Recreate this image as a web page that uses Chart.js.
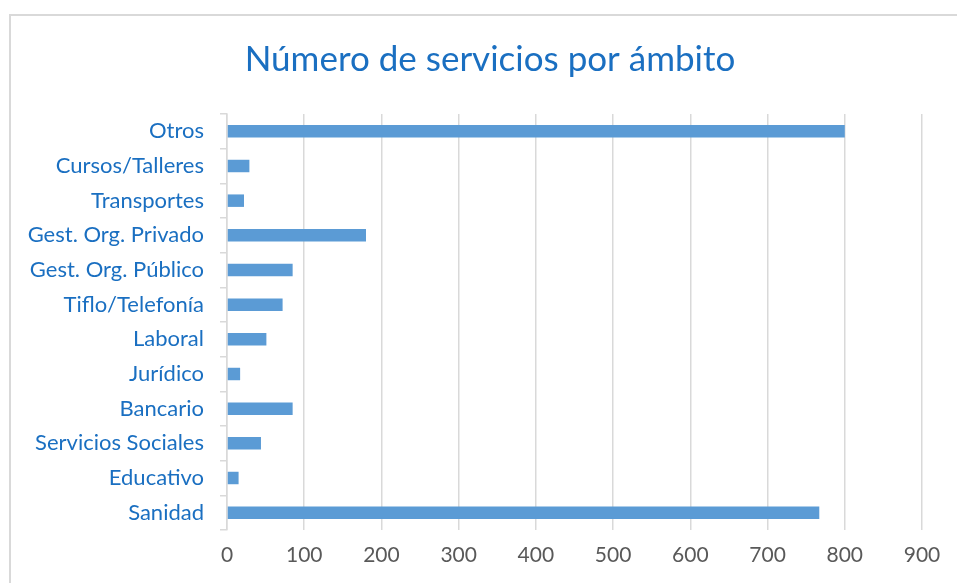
<!DOCTYPE html>
<html>
<head>
<meta charset="utf-8">
<script src="https://cdn.jsdelivr.net/npm/chart.js@4"></script>
<style>
  html, body { margin: 0; padding: 0; overflow: hidden; background: #fff; }
  #frame { position: absolute; left: 9px; top: 14px; width: 1000px; height: 700px; border: 2px solid #d9d9d9; }
  #wrap { position: absolute; left: 0; top: 0; width: 957px; height: 583px; }
</style>
</head>
<body>
<div id="frame"></div>
<div id="wrap"><canvas id="chart"></canvas></div>
<script>
const categories = [
  "Otros", "Cursos/Talleres", "Transportes", "Gest. Org. Privado",
  "Gest. Org. Público", "Tiflo/Telefonía", "Laboral", "Jurídico",
  "Bancario", "Servicios Sociales", "Educativo", "Sanidad"
];
const servicios = [800, 29, 22, 180, 85, 72, 51, 17, 85, 44, 15, 767];
const xTicks = [0, 100, 200, 300, 400, 500, 600, 700, 800, 900];
const chartTitle = "Número de servicios por ámbito";

const blue = "#1a6fc1";
const fontFamily = "Lato, 'Open Sans', sans-serif";

// the title sits centred over the frame, not over the canvas, so draw it here
const frameTitle = {
  id: "frameTitle",
  afterDraw(chart) {
    const c = chart.ctx;
    c.save();
    c.fillStyle = blue;
    c.font = "35px " + fontFamily;
    c.textAlign = "center";
    c.textBaseline = "middle";
    c.fillText(chartTitle, 490, 60);
    c.restore();
  },
};

const ctx = document.getElementById("chart").getContext("2d");
new Chart(ctx, {
  type: "bar",
  data: {
    labels: categories,
    datasets: [
      {
        label: "Número de servicios",
        data: servicios,
        backgroundColor: "#5b9bd5",
        borderWidth: 0,
        barPercentage: 0.6,
        categoryPercentage: 0.6,
      },
    ],
  },
  plugins: [frameTitle],
  options: {
    indexAxis: "y",
    responsive: true,
    maintainAspectRatio: false,
    animation: false,
    layout: { padding: { left: 0, right: 35, top: 114, bottom: 0 } },
    plugins: {
      legend: { display: false },
      tooltip: { enabled: false },
      title: { display: false },
    },
    scales: {
      x: {
        min: 0,
        max: 900,
        afterBuildTicks: (scale) => {
          scale.ticks = xTicks.map((v) => ({ value: v }));
        },
        afterFit: (scale) => {
          scale.height = 53;
        },
        grid: {
          color: "#d9d9d9",
          lineWidth: 1.5,
          drawTicks: false,
        },
        border: { display: false },
        ticks: {
          color: "#595959",
          padding: 13,
          font: { family: fontFamily, size: 21 },
        },
      },
      y: {
        afterFit: (scale) => {
          scale.width = 227;
        },
        grid: {
          display: true,
          drawOnChartArea: false,
          tickLength: 7,
          color: "#d9d9d9",
          lineWidth: 1.5,
        },
        border: { display: true, color: "#d9d9d9", width: 1.5 },
        ticks: {
          color: blue,
          padding: 16,
          font: { family: fontFamily, size: 22 },
        },
      },
    },
  },
});
</script>
</body>
</html>
